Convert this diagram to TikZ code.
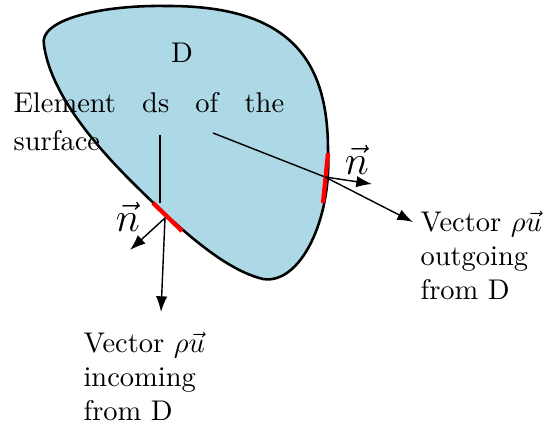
\documentclass[tikz,border=0pt]{standalone}
\usepackage{amsmath,amssymb}
\usetikzlibrary{arrows.meta}
\definecolor{lightblue}{RGB}{173,216,230}
\tikzset{
  surface style/.style={
    fill=lightblue,          % fill of the domain
    line width=0.9pt,        % outline thickness
  },
  element style/.style={red, line width=1.5pt},
  vector style/.style={-{Latex[length=5.5pt,width=4pt]}, line width=0.5pt},
  label style/.style={inner sep=0pt, anchor=base west, align=left},
}

\begin{document}
\begin{tikzpicture}[x=0.351pt, y=-0.351pt]
    \useasboundingbox (0,0) rectangle (549,439);

    % Domain D
    \draw[surface style] (44,45) .. controls (38,20) and (100,5) .. (165,6)
        .. controls (290,5) and (328,60) .. (328,150)
        .. controls (332,220) and (300,285) .. (263,279)
        .. controls (225,270) and (180,230) .. (130,180)
        .. controls (90,140) and (50,90) .. (44,45) -- cycle;
    \node (D) at (182,53) {D};

    % Points on the surface
    \coordinate (pin) at (165,218);
    \coordinate (pintop) at (160,203);
    \coordinate (pout) at (325,177);
    \coordinate (nin) at (130,250);
    \coordinate (nout) at (372,184);

    % Labels (base = last line for the vector labels)
    \node[label style, text width=95pt,
          font=\fontsize{10}{13.3}\selectfont] (elem) at (13,113)
          {Element\hfill ds\hfill of\hfill the\\surface};
    \node[label style] (vout) at (420,300)
          {Vector $\rho\vec{u}$\\outgoing\\from D};
    \node[label style] (vin) at (83,421)
          {Vector $\rho\vec{u}$\\incoming\\from D};
    \coordinate (elemA) at (160,135);
    \coordinate (elemB) at (213,133);

    % Lines from the label to the elements
    \draw[line width=0.5pt] (elemA) -- (pintop);
    \draw[line width=0.5pt] (elemB) -- (pout);

    % Elements ds
    \draw[element style] (153,203) -- (182,231);
    \draw[element style] (328,153) -- (323,203);

    % Vectors
    \draw[vector style] (pin) -- (nin);
    \draw[vector style] (pin) -- (161,312) coordinate (vintip);
    \draw[vector style] (pout) -- (nout);
    \draw[vector style] (pout) -- (413,222) coordinate (vouttip);
    \node[font=\Large] (nlabin) at (128,217) {$\vec{n}$};
    \node[font=\Large] (nlabout) at (357,160) {$\vec{n}$};
\end{tikzpicture}
\end{document}
